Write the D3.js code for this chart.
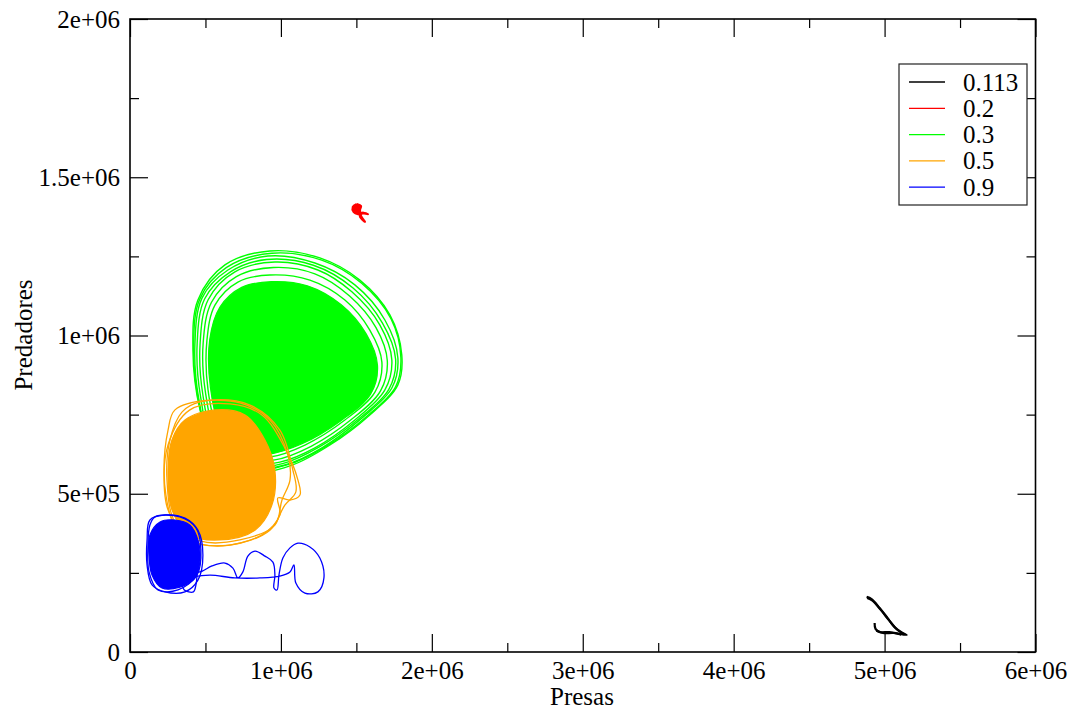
<!DOCTYPE html>
<html><head><meta charset="utf-8">
<script src="https://cdn.jsdelivr.net/npm/d3@7"></script>
<style>body{margin:0;background:#fff}svg{display:block}text{font-family:"Liberation Serif","Times New Roman",serif}</style>
</head><body><svg id="c" width="1071" height="711"></svg>
<script>
// ---- data (values in data units) ----
const seriesNames = ["0.113", "0.2", "0.3", "0.5", "0.9"];
const seriesColors = ["#000000", "#ff0000", "#00ff00", "#ffa500", "#0000ff"];
const xTicks = [0, 1e6, 2e6, 3e6, 4e6, 5e6, 6e6];
const yTicks = [0, 5e5, 1e6, 1.5e6, 2e6];
const xMinor = [0.5e6, 1.5e6, 2.5e6, 3.5e6, 4.5e6, 5.5e6];
const yMinor = [2.5e5, 7.5e5, 1.25e6, 1.75e6];

// r = 0.113 trajectory (black)
const traj0113 = [
  [[4.881e6,0.174e6],[4.914e6,0.167e6],[4.967e6,0.139e6],[5.020e6,0.107e6],[5.066e6,0.079e6],[5.119e6,0.060e6],[5.146e6,0.054e6],[5.099e6,0.057e6],[5.033e6,0.063e6],[4.967e6,0.063e6],[4.940e6,0.073e6],[4.934e6,0.092e6]],
  [[4.885e6,0.171e6],[4.920e6,0.162e6],[4.975e6,0.133e6],[5.030e6,0.100e6],[5.080e6,0.072e6],[5.130e6,0.056e6]],
  [[4.945e6,0.068e6],[4.990e6,0.060e6],[5.060e6,0.060e6],[5.110e6,0.055e6]]
];
// r = 0.2 trajectory (red)
const traj02 = [
  [[1.503e6,1.415e6],[1.477e6,1.406e6],[1.483e6,1.390e6],[1.510e6,1.384e6],[1.536e6,1.387e6],[1.576e6,1.384e6],[1.543e6,1.387e6],[1.523e6,1.378e6],[1.556e6,1.359e6],[1.530e6,1.378e6],[1.523e6,1.397e6],[1.530e6,1.409e6],[1.503e6,1.415e6]],
  [[1.497e6,1.410e6],[1.485e6,1.398e6],[1.500e6,1.388e6],[1.520e6,1.392e6],[1.515e6,1.405e6],[1.497e6,1.410e6]]
];
// r = 0.3 loops (green)
const loops03 = [
  [[0.927e6,1.267e6],[1.258e6,1.245e6],[1.523e6,1.175e6],[1.722e6,1.065e6],[1.801e6,0.938e6],[1.775e6,0.844e6],[1.589e6,0.749e6],[1.325e6,0.654e6],[1.060e6,0.588e6],[0.795e6,0.569e6],[0.563e6,0.638e6],[0.464e6,0.765e6],[0.417e6,0.954e6],[0.450e6,1.112e6],[0.629e6,1.223e6]],
  [[0.940e6,1.260e6],[1.270e6,1.238e6],[1.535e6,1.165e6],[1.730e6,1.052e6],[1.795e6,0.930e6],[1.760e6,0.838e6],[1.570e6,0.745e6],[1.300e6,0.650e6],[1.045e6,0.592e6],[0.780e6,0.575e6],[0.555e6,0.645e6],[0.460e6,0.780e6],[0.422e6,0.962e6],[0.462e6,1.115e6],[0.640e6,1.215e6]],
  [[0.914e6,1.251e6],[1.225e6,1.229e6],[1.490e6,1.160e6],[1.689e6,1.049e6],[1.775e6,0.929e6],[1.735e6,0.834e6],[1.536e6,0.739e6],[1.272e6,0.645e6],[1.026e6,0.591e6],[0.762e6,0.581e6],[0.543e6,0.654e6],[0.457e6,0.796e6],[0.430e6,0.970e6],[0.477e6,1.118e6],[0.649e6,1.207e6]],
  [[0.905e6,1.240e6],[1.215e6,1.222e6],[1.478e6,1.150e6],[1.672e6,1.040e6],[1.760e6,0.925e6],[1.715e6,0.830e6],[1.515e6,0.736e6],[1.255e6,0.648e6],[1.010e6,0.595e6],[0.752e6,0.588e6],[0.550e6,0.662e6],[0.468e6,0.805e6],[0.445e6,0.975e6],[0.495e6,1.116e6],[0.668e6,1.202e6]],
  [[0.960e6,1.232e6],[1.245e6,1.207e6],[1.470e6,1.138e6],[1.656e6,1.033e6],[1.735e6,0.923e6],[1.689e6,0.828e6],[1.490e6,0.733e6],[1.225e6,0.645e6],[0.993e6,0.600e6],[0.742e6,0.597e6],[0.563e6,0.670e6],[0.483e6,0.812e6],[0.464e6,0.970e6],[0.517e6,1.112e6],[0.695e6,1.201e6]],
  [[0.950e6,1.215e6],[1.225e6,1.195e6],[1.455e6,1.125e6],[1.630e6,1.025e6],[1.705e6,0.920e6],[1.660e6,0.825e6],[1.460e6,0.732e6],[1.200e6,0.650e6],[0.960e6,0.607e6],[0.728e6,0.610e6],[0.573e6,0.685e6],[0.500e6,0.820e6],[0.485e6,0.978e6],[0.540e6,1.105e6],[0.705e6,1.186e6]],
  [[0.927e6,1.191e6],[1.192e6,1.175e6],[1.424e6,1.112e6],[1.589e6,1.017e6],[1.669e6,0.916e6],[1.623e6,0.821e6],[1.424e6,0.733e6],[1.159e6,0.654e6],[0.927e6,0.616e6],[0.715e6,0.622e6],[0.583e6,0.701e6],[0.517e6,0.828e6],[0.510e6,0.986e6],[0.563e6,1.096e6],[0.715e6,1.169e6]]
];
const core03 = [[0.935e6,1.170e6],[1.175e6,1.157e6],[1.400e6,1.097e6],[1.565e6,1.005e6],[1.640e6,0.905e6],[1.595e6,0.815e6],[1.395e6,0.730e6],[1.140e6,0.658e6],[0.915e6,0.625e6],[0.712e6,0.633e6],[0.595e6,0.712e6],[0.533e6,0.835e6],[0.528e6,0.986e6],[0.595e6,1.089e6],[0.740e6,1.152e6]];
// r = 0.5 loops (orange)
const loops05 = [
  [[0.298e6,0.765e6],[0.530e6,0.796e6],[0.795e6,0.780e6],[0.993e6,0.701e6],[1.079e6,0.575e6],[1.099e6,0.506e6],[1.026e6,0.464e6],[0.927e6,0.385e6],[0.662e6,0.338e6],[0.397e6,0.354e6],[0.252e6,0.449e6],[0.225e6,0.575e6],[0.252e6,0.701e6]],
  [[0.464e6,0.790e6],[0.728e6,0.787e6],[0.927e6,0.733e6],[1.046e6,0.622e6],[1.060e6,0.543e6],[1.007e6,0.480e6],[0.960e6,0.401e6],[0.728e6,0.354e6],[0.464e6,0.351e6],[0.298e6,0.411e6],[0.245e6,0.543e6],[0.265e6,0.670e6],[0.344e6,0.758e6]],
  [[0.397e6,0.765e6],[0.662e6,0.784e6],[0.874e6,0.749e6],[1.026e6,0.645e6],[1.113e6,0.543e6],[1.126e6,0.496e6],[1.060e6,0.480e6],[0.980e6,0.487e6],[0.993e6,0.433e6],[0.874e6,0.370e6],[0.563e6,0.335e6],[0.331e6,0.370e6],[0.238e6,0.496e6],[0.252e6,0.654e6]]
];
const core05 = [[0.364e6,0.733e6],[0.563e6,0.765e6],[0.762e6,0.749e6],[0.894e6,0.670e6],[0.960e6,0.575e6],[0.940e6,0.464e6],[0.828e6,0.385e6],[0.596e6,0.354e6],[0.397e6,0.370e6],[0.278e6,0.449e6],[0.252e6,0.575e6],[0.278e6,0.670e6]];
// r = 0.9 loops and excursion (blue)
const loops09 = [
  [[0.132e6,0.417e6],[0.232e6,0.433e6],[0.364e6,0.423e6],[0.450e6,0.385e6],[0.483e6,0.306e6],[0.450e6,0.227e6],[0.364e6,0.190e6],[0.232e6,0.190e6],[0.146e6,0.212e6],[0.113e6,0.275e6],[0.113e6,0.354e6]],
  [[0.166e6,0.427e6],[0.331e6,0.427e6],[0.437e6,0.392e6],[0.470e6,0.322e6],[0.444e6,0.243e6],[0.318e6,0.196e6],[0.185e6,0.196e6],[0.126e6,0.253e6],[0.119e6,0.338e6],[0.132e6,0.401e6]]
];
const core09 = [[0.199e6,0.411e6],[0.298e6,0.417e6],[0.397e6,0.401e6],[0.450e6,0.354e6],[0.464e6,0.291e6],[0.430e6,0.234e6],[0.331e6,0.205e6],[0.212e6,0.202e6],[0.146e6,0.243e6],[0.126e6,0.306e6],[0.132e6,0.370e6]];
const path09 = [[0.397e6,0.259e6],[0.464e6,0.253e6],[0.543e6,0.272e6],[0.629e6,0.281e6],[0.682e6,0.265e6],[0.715e6,0.234e6],[0.748e6,0.253e6],[0.781e6,0.303e6],[0.828e6,0.319e6],[0.894e6,0.303e6],[0.947e6,0.284e6],[0.960e6,0.243e6],[0.954e6,0.202e6],[0.974e6,0.196e6],[0.987e6,0.243e6],[1.013e6,0.297e6],[1.060e6,0.329e6],[1.113e6,0.344e6],[1.192e6,0.332e6],[1.258e6,0.297e6],[1.285e6,0.234e6],[1.245e6,0.190e6],[1.159e6,0.186e6],[1.099e6,0.218e6],[1.086e6,0.275e6],[1.060e6,0.253e6],[0.993e6,0.240e6],[0.861e6,0.234e6],[0.695e6,0.234e6],[0.530e6,0.243e6],[0.430e6,0.237e6],[0.350e6,0.218e6],[0.360e6,0.196e6],[0.420e6,0.190e6],[0.437e6,0.212e6],[0.444e6,0.243e6]];

// ---- drawing ----
const svg = d3.select("#c");
const W = 1071, H = 711;
const x = d3.scaleLinear().domain([0, 6e6]).range([130, 1035.5]);
const y = d3.scaleLinear().domain([0, 2e6]).range([652, 19]);
const fmt = v => v === 0 ? "0" : v.toExponential().replace(/e([+-])(\d)$/, "e$10$2");
const FONT = '"Liberation Serif","Times New Roman",serif';
const FS = 25;

svg.append("rect").attr("width", W).attr("height", H).attr("fill", "#fff");

const plot = svg.append("g");
const lineOpen = d3.line().x(d => x(d[0])).y(d => y(d[1])).curve(d3.curveCatmullRom.alpha(0.5));
const lineClosed = d3.line().x(d => x(d[0])).y(d => y(d[1])).curve(d3.curveCatmullRomClosed.alpha(0.5));

function drawLoops(loops, color, w) {
  loops.forEach(l => plot.append("path").attr("d", lineClosed(l)).attr("fill", "none").attr("stroke", color).attr("stroke-width", w));
}
function drawCore(core, color) {
  plot.append("path").attr("d", lineClosed(core)).attr("fill", color).attr("stroke", color).attr("stroke-width", 1.2);
}
// black
traj0113.forEach(p => plot.append("path").attr("d", lineOpen(p)).attr("fill", "none").attr("stroke", seriesColors[0]).attr("stroke-width", 2.2).attr("stroke-linejoin", "round"));
// red
traj02.forEach(p => plot.append("path").attr("d", lineOpen(p)).attr("fill", seriesColors[1]).attr("stroke", seriesColors[1]).attr("stroke-width", 2.4).attr("stroke-linejoin", "round"));
// green
drawCore(core03, seriesColors[2]);
drawLoops(loops03, seriesColors[2], 1.4);
// orange
drawCore(core05, seriesColors[3]);
drawLoops(loops05, seriesColors[3], 1.3);
// blue
drawCore(core09, seriesColors[4]);
drawLoops(loops09, seriesColors[4], 1.3);
plot.append("path").attr("d", lineOpen(path09)).attr("fill", "none").attr("stroke", seriesColors[4]).attr("stroke-width", 1.3);

// ---- axes ----
function styleAxis(g) {
  g.attr("font-family", FONT).attr("font-size", FS);
  g.select(".domain").remove();
  g.selectAll(".tick line").attr("stroke", "#000").attr("stroke-width", 1.2);
  g.selectAll("text").attr("fill", "#000");
}
svg.append("g").attr("transform", "translate(0,652)")
  .call(d3.axisBottom(x).tickValues(xTicks).tickFormat(fmt).tickSizeInner(-18).tickSizeOuter(0).tickPadding(9)).call(styleAxis);
svg.append("g").attr("transform", "translate(0,652)")
  .call(d3.axisBottom(x).tickValues(xMinor).tickFormat("").tickSizeInner(-9).tickSizeOuter(0)).call(styleAxis);
svg.append("g").attr("transform", "translate(0,19)")
  .call(d3.axisTop(x).tickValues(xTicks).tickFormat("").tickSizeInner(-18).tickSizeOuter(0)).call(styleAxis);
svg.append("g").attr("transform", "translate(0,19)")
  .call(d3.axisTop(x).tickValues(xMinor).tickFormat("").tickSizeInner(-9).tickSizeOuter(0)).call(styleAxis);
svg.append("g").attr("transform", "translate(130,0)")
  .call(d3.axisLeft(y).tickValues(yTicks).tickFormat(fmt).tickSizeInner(-18).tickSizeOuter(0).tickPadding(10)).call(styleAxis);
svg.append("g").attr("transform", "translate(130,0)")
  .call(d3.axisLeft(y).tickValues(yMinor).tickFormat("").tickSizeInner(-9).tickSizeOuter(0)).call(styleAxis);
svg.append("g").attr("transform", "translate(1035.5,0)")
  .call(d3.axisRight(y).tickValues(yTicks).tickFormat("").tickSizeInner(-18).tickSizeOuter(0)).call(styleAxis);
svg.append("g").attr("transform", "translate(1035.5,0)")
  .call(d3.axisRight(y).tickValues(yMinor).tickFormat("").tickSizeInner(-9).tickSizeOuter(0)).call(styleAxis);

// frame
svg.append("rect").attr("x", 130).attr("y", 19).attr("width", 1035.5 - 130).attr("height", 652 - 19)
  .attr("fill", "none").attr("stroke", "#000").attr("stroke-width", 1.6);

// axis titles
svg.append("text").attr("x", 582).attr("y", 705).attr("text-anchor", "middle").attr("font-size", FS).attr("font-family", FONT).text("Presas");
svg.append("text").attr("transform", "translate(32,335) rotate(-90)").attr("text-anchor", "middle").attr("font-size", FS).attr("font-family", FONT).text("Predadores");

// legend
const lg = svg.append("g").attr("font-family", FONT);
lg.append("rect").attr("x", 899).attr("y", 64).attr("width", 128).attr("height", 141)
  .attr("fill", "#fff").attr("stroke", "#222").attr("stroke-width", 1.2);
seriesNames.forEach((n, i) => {
  const ly = 82 + i * 26.3;
  lg.append("line").attr("x1", 909).attr("x2", 945).attr("y1", ly).attr("y2", ly)
    .attr("stroke", seriesColors[i]).attr("stroke-width", 1.3);
  lg.append("text").attr("x", 963).attr("y", ly + 8.5).attr("font-size", FS).text(n);
});
</script></body></html>
